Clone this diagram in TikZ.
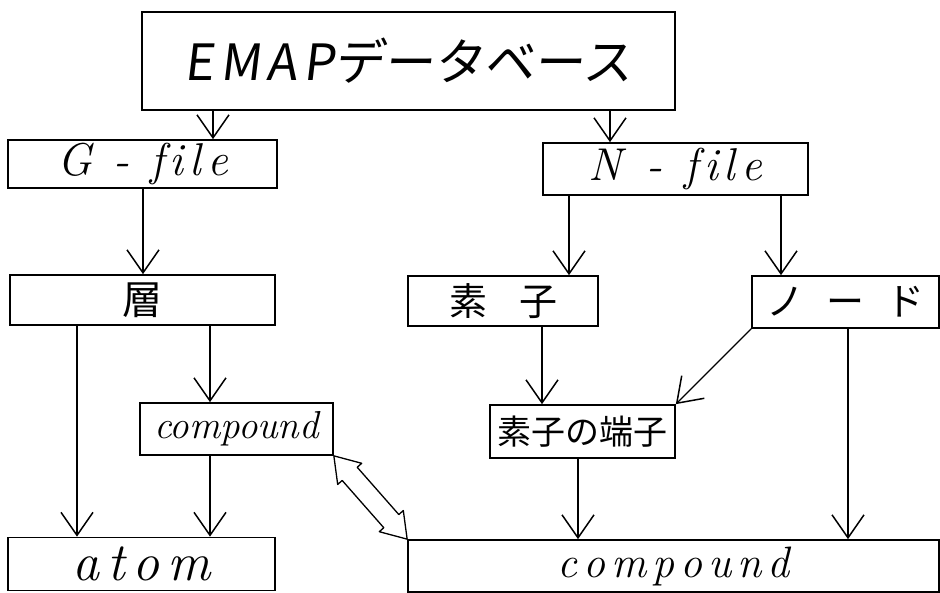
\documentclass[tikz,border=0pt]{standalone}
\usepackage{fontspec}
\usetikzlibrary{arrows.meta,calc}
\newfontfamily\jp{Noto Sans CJK JP}
\newfontfamily\jpsl{Noto Sans CJK JP}[FakeSlant=0.12]
\newcommand\hand{\rmfamily\itshape}
% spread the letters of a word apart by #1
\newcommand\spread[2]{\def\gap{\hspace{#1}}\spreadloop#2\relax}
\def\spreadloop#1{\ifx#1\relax\else#1\expandafter\spreadnext\fi}
\def\spreadnext#1{\ifx#1\relax\else\gap#1\expandafter\spreadnext\fi}

\tikzset{
  box/.style={draw, line width=1.7pt, inner sep=0pt, anchor=center},
  arr/.style={line width=1.2pt, -{Straight Barb[length=23pt, width=32pt, line width=1.5pt]}},
  hollow/.style={draw, line width=1.3pt, fill=white, line join=round}
}

\begin{document}
\begin{tikzpicture}[x=1pt, y=-1pt]
  \useasboundingbox (0,0) rectangle (940,593);
  \fill[white] (0,0) rectangle (940,593);

  % boxes
  \node[box, minimum width=533pt, minimum height=98pt] (emap) at (408.5,61)
    {\jpsl\fontsize{50}{56}\selectfont E\hspace{6pt}M\hspace{6pt}A\hspace{6pt}Pデータベース};
  \node[box, minimum width=269pt, minimum height=48pt] (gfile) at (142.5,164)
    {\hand\fontsize{46}{50}\selectfont G\hspace{22pt}-\hspace{20pt}\spread{6pt}{file}};
  \node[box, minimum width=265pt, minimum height=52pt] (nfile) at (675.5,169)
    {\hand\fontsize{46}{50}\selectfont N\hspace{24pt}-\hspace{22pt}\spread{6pt}{file}};
  \node[box, minimum width=265pt, minimum height=50pt] (layer) at (142.5,300)
    {\jp\fontsize{40}{44}\selectfont 層};
  \node[box, minimum width=190pt, minimum height=50pt] (elem) at (503,301)
    {\jp\fontsize{38}{42}\selectfont 素\hspace{32pt}子};
  \node[box, minimum width=187pt, minimum height=52pt] (nd) at (845.5,302)
    {\jp\fontsize{38}{42}\selectfont ノ\hspace{22pt}ー\hspace{22pt}ド};
  \node[box, minimum width=193pt, minimum height=52pt] (cs) at (236.5,429)
    {\hand\fontsize{39}{42}\selectfont compound};
  \node[box, minimum width=185pt, minimum height=53pt] (term) at (582.5,431.5)
    {\jp\fontsize{34}{38}\selectfont 素子の端子};
  \node[box, minimum width=267pt, minimum height=53pt] (atom) at (141.5,564)
    {\hand\fontsize{54}{58}\selectfont \spread{8pt}{atom}\hspace{20pt}};
  \node[box, minimum width=531pt, minimum height=52pt] (cb) at (673.5,566)
    {\hand\fontsize{44}{48}\selectfont \spread{6pt}{compound}};

  % connector columns
  \coordinate (c1) at (213,0);
  \coordinate (c2) at (610,0);
  \coordinate (c3) at (143,0);
  \coordinate (c4) at (569,0);
  \coordinate (c5) at (781,0);
  \coordinate (c6) at (77,0);
  \coordinate (c7) at (210,0);
  \coordinate (c8) at (542,0);
  \coordinate (c9) at (578,0);
  \coordinate (c10) at (848,0);

  % connectors
  \draw[arr] (emap.south -| c1) -- (gfile.north -| c1);
  \draw[arr] (emap.south -| c2) -- (nfile.north -| c2);
  \draw[arr] (gfile.south -| c3) -- (layer.north -| c3);
  \draw[arr] (nfile.south -| c4) -- (elem.north -| c4);
  \draw[arr] (nfile.south -| c5) -- (nd.north -| c5);
  \draw[arr] (layer.south -| c6) -- (atom.north -| c6);
  \draw[arr] (layer.south -| c7) -- (cs.north -| c7);
  \draw[arr] (cs.south -| c7) -- (atom.north -| c7);
  \draw[arr] (elem.south -| c8) -- (term.north -| c8);
  \draw[arr] (nd.south west) -- (term.north east);
  \draw[arr] (term.south -| c9) -- (cb.north -| c9);
  \draw[arr] (nd.south -| c10) -- (cb.north -| c10);

  % hollow double arrow between the two compound boxes
  \coordinate (ha) at (cs.south east);
  \coordinate (hb) at (cb.north west);
  \coordinate (a1) at ($(ha)!24pt!(hb)$);
  \coordinate (b1) at ($(hb)!24pt!(ha)$);
  \draw[hollow]
    (ha)
    -- ($(a1)!16pt!90:(ha)$)
    -- ($(a1)!10pt!90:(ha)$)
    -- ($(b1)!10pt!-90:(hb)$)
    -- ($(b1)!16pt!-90:(hb)$)
    -- (hb)
    -- ($(b1)!16pt!90:(hb)$)
    -- ($(b1)!10pt!90:(hb)$)
    -- ($(a1)!10pt!-90:(ha)$)
    -- ($(a1)!16pt!-90:(ha)$)
    -- cycle;
\end{tikzpicture}
\end{document}
